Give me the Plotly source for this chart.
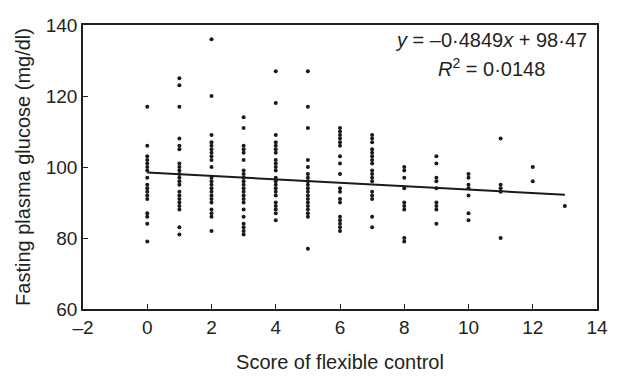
import plotly.graph_objects as go

# Scores of flexible control (x) and fasting plasma glucose (mg/dl) values per score
score_0 = [117, 106, 103, 102, 101, 100, 99, 97, 95, 94, 93, 92, 91, 87, 86, 84, 79]
score_1 = [125, 123, 117, 108, 106, 105, 101, 100, 99, 98, 97, 96, 95, 93, 92, 91, 90, 89, 88, 83, 81]
score_2 = [136, 120, 109, 107, 106, 105, 104, 103, 102, 100, 97, 96, 95, 94, 93, 92, 91, 90, 88, 87, 86, 82]
score_3 = [114, 111, 106, 105, 104, 102, 99, 98, 97, 96, 95, 94, 93, 92, 91, 90, 88, 86, 84, 83, 82, 81]
score_4 = [127, 118, 109, 107, 106, 105, 104, 102, 101, 100, 99, 97, 96, 95, 94, 93, 92, 90, 89, 88, 87, 85]
score_5 = [127, 117, 111, 102, 100, 98, 97, 96, 95, 94, 93, 92, 91, 90, 89, 88, 87, 86, 77]
score_6 = [111, 110, 109, 108, 107, 106, 103, 101, 98, 94, 93, 91, 90, 86, 85, 84, 83, 82]
score_7 = [109, 108, 107, 105, 104, 103, 102, 101, 99, 98, 97, 96, 93, 92, 91, 86, 83]
score_8 = [100, 99, 97, 94, 90, 89, 88, 80, 79]
score_9 = [103, 101, 97, 96, 94, 90, 89, 88, 84]
score_10 = [98, 97, 95, 94, 92, 87, 85]
score_11 = [108, 95, 94, 93, 80]
score_12 = [100, 96]
score_13 = [89]

glucose_by_score = [score_0, score_1, score_2, score_3, score_4, score_5, score_6,
                    score_7, score_8, score_9, score_10, score_11, score_12, score_13]

# Regression fit reported on the chart
slope = -0.4849
intercept = 98.47
fit_x = [0, 13]

x_ticks = [-2, 0, 2, 4, 6, 8, 10, 12, 14]
y_ticks = [60, 80, 100, 120, 140]

xs, ys = [], []
for s, vals in enumerate(glucose_by_score):
    xs += [s] * len(vals)
    ys += vals

fit_y = [intercept + slope * v for v in fit_x]

FONT = "Liberation Sans, Arial, Helvetica, sans-serif"
INK = "#231f20"

fig = go.Figure()
fig.add_trace(go.Scatter(x=xs, y=ys, mode="markers",
                         marker=dict(color="#1a1a1a", size=4, line=dict(width=0)),
                         showlegend=False, hoverinfo="x+y"))
fig.add_trace(go.Scatter(x=fit_x, y=fit_y, mode="lines",
                         line=dict(color="#1a1a1a", width=2),
                         showlegend=False, hoverinfo="skip"))

fig.add_annotation(xref="paper", yref="paper", x=0.794, y=0.9476,
                   text="<i>y</i> = –0·4849<i>x</i> + 98·47", showarrow=False,
                   xanchor="center", yanchor="middle",
                   font=dict(family=FONT, size=20, color=INK))
fig.add_annotation(xref="paper", yref="paper", x=0.794, y=0.852,
                   text="<i>R</i><sup>2</sup> = 0·0148", showarrow=False,
                   xanchor="center", yanchor="middle",
                   font=dict(family=FONT, size=20, color=INK))

axis_common = dict(showline=True, linecolor=INK, linewidth=1.6, mirror=True,
                   ticks="inside", ticklen=5, tickwidth=1, tickcolor=INK,
                   showgrid=False, zeroline=False,
                   tickfont=dict(family=FONT, size=19, color=INK))

fig.update_layout(
    width=620, height=382,
    margin=dict(l=83, r=12, t=25, b=65),
    paper_bgcolor="white", plot_bgcolor="white",
    font=dict(family=FONT, color=INK),
    xaxis=dict(range=[-2, 14], tickvals=x_ticks,
               ticktext=[("–" + str(-t)) if t < 0 else str(t) for t in x_ticks],
               title=dict(text="Score of flexible control", font=dict(family=FONT, size=20, color=INK), standoff=18),
               **axis_common),
    yaxis=dict(range=[60, 140], tickvals=y_ticks,
               title=dict(text="Fasting plasma glucose (mg/dl)", font=dict(family=FONT, size=20, color=INK), standoff=10),
               **axis_common),
)

fig.write_html("out.html", config={"displayModeBar": False},
               post_script="document.body.style.margin='0';document.body.style.overflow='hidden';")
